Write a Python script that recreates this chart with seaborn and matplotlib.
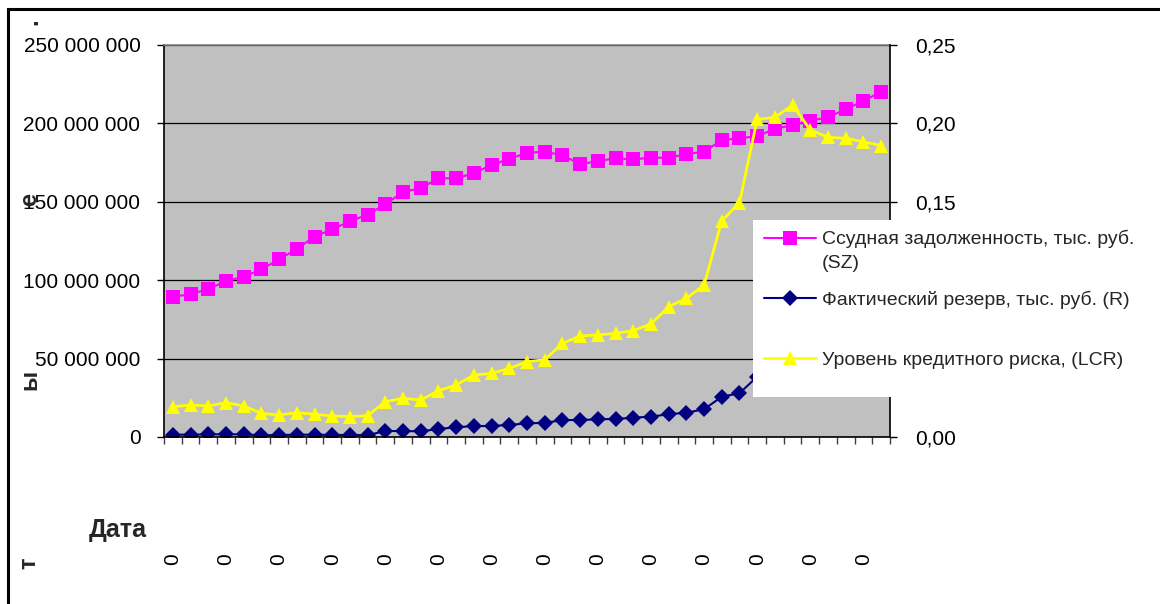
import matplotlib
matplotlib.use("Agg")
import matplotlib.pyplot as plt
import pandas as pd
import seaborn as sns
from matplotlib.lines import Line2D
from matplotlib.patches import Rectangle

sns.set_theme(style="ticks")
plt.rcParams['font.family'] = ['Liberation Sans', 'DejaVu Sans']

# Monthly observations
periods = list(range(41))

# Ссудная задолженность, тыс. руб. (SZ)
loan_debt = [89.5e6, 91.0e6, 94.4e6, 99.3e6, 102.3e6, 106.9e6, 113.3e6, 119.9e6,
             127.8e6, 132.4e6, 137.6e6, 141.8e6, 148.4e6, 156.3e6, 158.6e6, 165.0e6,
             165.0e6, 168.2e6, 173.5e6, 177.3e6, 181.3e6, 181.9e6, 179.8e6, 173.9e6,
             176.0e6, 177.7e6, 177.1e6, 178.1e6, 178.1e6, 180.5e6, 181.9e6, 189.4e6,
             190.5e6, 191.9e6, 196.4e6, 199.0e6, 201.7e6, 203.9e6, 209.0e6, 214.3e6,
             220.2e6]

# Фактический резерв, тыс. руб. (R)
reserve = [1.5e6, 1.5e6, 1.6e6, 1.8e6, 1.6e6, 1.2e6, 1.2e6, 1.5e6, 1.5e6, 1.3e6,
           1.3e6, 1.2e6, 3.8e6, 3.8e6, 3.6e6, 5.1e6, 6.2e6, 7.0e6, 7.0e6, 7.7e6,
           8.7e6, 9.0e6, 10.8e6, 10.8e6, 11.3e6, 11.5e6, 12.3e6, 13.0e6, 14.5e6,
           15.5e6, 17.7e6, 25.7e6, 27.9e6, 38.5e6, 46.0e6, 53.0e6, 61.0e6, 68.0e6,
           77.0e6, 86.0e6, 95.0e6]

# Уровень кредитного риска (LCR)
credit_risk = [0.0193, 0.0204, 0.0198, 0.0219, 0.0198, 0.0151, 0.0140, 0.0155,
               0.0145, 0.0134, 0.0130, 0.0136, 0.0225, 0.0247, 0.0236, 0.0295,
               0.0332, 0.0395, 0.0406, 0.0438, 0.0480, 0.0493, 0.0597, 0.0644,
               0.0651, 0.0661, 0.0678, 0.0721, 0.0831, 0.0884, 0.0969, 0.1379,
               0.1494, 0.2026, 0.2039, 0.2117, 0.1958, 0.1911, 0.1905, 0.1883,
               0.1858]

date_ticks = list(range(0, 41, 3))
date_labels = ['0'] * len(date_ticks)

left_ticks = [0, 50e6, 100e6, 150e6, 200e6, 250e6]
left_labels = ['0', '50 000 000', '100 000 000', '150 000 000', '200 000 000', '250 000 000']
right_ticks = [0.0, 0.05, 0.10, 0.15, 0.20, 0.25]
right_labels = ['0,00', '0,05', '0,10', '0,15', '0,20', '0,25']

series_names = ['Ссудная задолженность, тыс. руб.',
                'Фактический резерв, тыс. руб. (R)',
                'Уровень кредитного риска, (LCR)']

df = pd.DataFrame({'period': periods, 'SZ': loan_debt, 'R': reserve, 'LCR': credit_risk})

W, H = 1160, 604
fig = plt.figure(figsize=(W / 100, H / 100), dpi=100)
fig.patch.set_facecolor('white')

ax = fig.add_axes([164 / W, 1 - 437 / H, 726 / W, 392 / H])
ax.set_facecolor('#C0C0C0')

styles = {
    'SZ': dict(color='#FF00FF', marker='s', markersize=10, linewidth=1.5),
    'R': dict(color='#000080', marker='D', markersize=7.8, linewidth=1.5),
    'LCR': dict(color='#FFFF00', marker='^', markersize=10, linewidth=2.0),
}

sns.lineplot(data=df, x='period', y='SZ', ax=ax, markeredgewidth=0, legend=False, **styles['SZ'])
sns.lineplot(data=df, x='period', y='R', ax=ax, markeredgewidth=0, legend=False, **styles['R'])

ax2 = ax.twinx()
sns.lineplot(data=df, x='period', y='LCR', ax=ax2, markeredgewidth=0, legend=False, **styles['LCR'])

# left axis
ax.set_xlim(-0.5, 40.5)
ax.set_ylim(0, 250e6)
ax.set_yticks(left_ticks)
ax.set_yticklabels(left_labels)
ax.set_xlabel('')
ax.set_ylabel('')
ax.set_axisbelow(True)
ax.yaxis.grid(True, color='black', linewidth=0.9)
ax.xaxis.grid(False)
ax.tick_params(axis='y', left=True, length=5, width=1, color='black', pad=12,
               labelsize=15, labelcolor='black')

# category axis: boundary ticks plus sparse date labels
ax.set_xticks(date_ticks)
ax.set_xticklabels(date_labels, rotation=90)
ax.set_xticks([p - 0.5 for p in periods] + [periods[-1] + 0.5], minor=True)
ax.tick_params(axis='x', which='major', bottom=True, length=0, pad=84, labelsize=15,
               labelrotation=90, labelcolor='black')
ax.tick_params(axis='x', which='minor', bottom=True, length=5, width=1, color='#404040')

for side in ['left', 'bottom']:
    ax.spines[side].set_color('black')
    ax.spines[side].set_linewidth(1.2)
ax.spines['top'].set_visible(True)
ax.spines['top'].set_color('#808080')
ax.spines['top'].set_linewidth(1.2)
ax.spines['right'].set_visible(False)

# right axis
ax2.set_ylim(0, 0.25)
ax2.set_yticks(right_ticks)
ax2.set_yticklabels(right_labels)
ax2.set_ylabel('')
ax2.tick_params(axis='y', right=True, length=5, width=1, color='black', pad=13,
                labelsize=15, labelcolor='black')
for side in ['left', 'top', 'bottom']:
    ax2.spines[side].set_visible(False)
ax2.spines['right'].set_visible(True)
ax2.spines['right'].set_color('black')
ax2.spines['right'].set_linewidth(1.2)

# legend panel
fig.add_artist(Rectangle((753 / W, 1 - 397 / H), 397 / W, 177 / H, transform=fig.transFigure,
                         facecolor='white', edgecolor='none', zorder=4))
handles = [Line2D([], [], markeredgewidth=0, **styles[k]) for k in ['SZ', 'R', 'LCR']]
fig.legend(handles, series_names, loc='upper left', bbox_to_anchor=(764 / W, 1 - 230 / H),
           frameon=False, borderpad=0, borderaxespad=0, handlelength=2.68, handletextpad=0.31,
           labelspacing=2.17, fontsize=14)
fig.text(822 / W, 1 - 263 / H, '(SZ)', ha='left', va='center', fontsize=14, zorder=6)

# axis titles
fig.text(118 / W, 1 - 530 / H, 'Дата', ha='center', va='center', fontsize=18, fontweight='bold')
for ch, (x, y) in zip(['т', 'ы', 'е', '.'], [(29, 563), (30, 380), (30, 199), (31, 22)]):
    fig.text(x / W, 1 - y / H, ch, rotation=90, ha='center', va='center', fontsize=17,
             fontweight='bold')

# outer chart frame
fig.add_artist(Rectangle((8 / W, -0.1), 1.2, 1.1 - 9 / H, transform=fig.transFigure,
                         fill=False, edgecolor='black', linewidth=2.2, zorder=10))

fig.savefig('out.png', dpi=100, facecolor='white')
